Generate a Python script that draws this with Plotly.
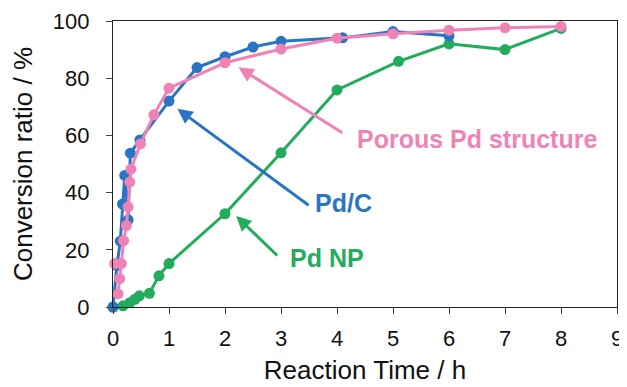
import plotly.graph_objects as go

# Data
pdc_x = [0, 0.07, 0.13, 0.17, 0.21, 0.27, 0.31, 0.48, 1.0, 1.5, 2.0, 2.5, 3.0, 4.1, 5.0, 6.0]
pdc_y = [0, 14.5, 23, 36, 46, 30.5, 53.8, 58.4, 72, 83.7, 87.5, 90.9, 92.9, 94.1, 96.3, 94.8]

por_x = [0.03, 0.15, 0.09, 0.12, 0.19, 0.24, 0.27, 0.3, 0.32, 0.49, 0.73, 1.0, 2.0, 3.0, 4.0, 5.0, 6.0, 7.0, 8.0]
por_y = [15.2, 15.2, 4.6, 9.9, 23.2, 28.5, 35, 43.7, 48.2, 57, 67.2, 76.5, 85.4, 90.2, 94, 95.5, 96.8, 97.6, 98.1]

np_x = [0, 0.18, 0.3, 0.39, 0.47, 0.65, 0.82, 1.0, 2.0, 3.0, 4.0, 5.1, 6.0, 7.0, 8.0]
np_y = [0, 0.4, 1.5, 2.7, 3.9, 4.8, 10.9, 15.2, 32.6, 53.9, 75.9, 85.9, 92, 90, 97.4]

x_ticks = [0, 1, 2, 3, 4, 5, 6, 7, 8, 9]
y_ticks = [0, 20, 40, 60, 80, 100]

BLUE = "#2A74C4"
PINK = "#F083B6"
GREEN = "#22AD5C"
FONT = "Liberation Sans, Arial, sans-serif"

fig = go.Figure()
for xs, ys, col in [(np_x, np_y, GREEN), (pdc_x, pdc_y, BLUE), (por_x, por_y, PINK)]:
    fig.add_trace(go.Scatter(x=xs, y=ys, mode="lines+markers",
                             line=dict(color=col, width=3),
                             marker=dict(color=col, size=11),
                             showlegend=False, cliponaxis=False))

def label(text, x, y, col, ax, ay, tx, ty):
    fig.add_annotation(x=x, y=y, ax=ax, ay=ay, xref="x", yref="y", axref="x", ayref="y",
                       text="", showarrow=True, arrowhead=2, arrowsize=1.0,
                       arrowwidth=3, arrowcolor=col, standoff=0)
    fig.add_annotation(x=tx, y=ty, xref="x", yref="y", text="<b>%s</b>" % text,
                       showarrow=False, xanchor="left", yanchor="middle",
                       font=dict(family=FONT, size=25, color=col))

label("Porous Pd structure", 2.24, 83.8, PINK, 4.12, 60.6, 4.33, 58.8)
label("Pd/C", 1.15, 69.3, BLUE, 3.52, 35.2, 3.58, 36.3)
label("Pd NP", 2.2, 31.8, GREEN, 2.96, 17.5, 3.13, 17.0)

fig.update_layout(
    width=619, height=379,
    margin=dict(l=105, r=10, t=13, b=80),
    paper_bgcolor="white", plot_bgcolor="white",
    font=dict(family=FONT, size=22, color="#111111"),
)
fig.update_xaxes(range=[0, 9], tickvals=x_ticks, ticks="outside", ticklen=6,
                 showline=True, linecolor="#222222", linewidth=1.2, mirror=True,
                 showgrid=False, zeroline=False, automargin=False,
                 ticklabelstandoff=5,
                 title=dict(text="Reaction Time / h", font=dict(size=26), standoff=11),
                 tickfont=dict(size=22))
fig.update_yaxes(range=[0, 100], tickvals=y_ticks, ticks="outside", ticklen=6,
                 showline=True, linecolor="#222222", linewidth=1.2, mirror=True,
                 showgrid=False, zeroline=False, automargin=False,
                 ticklabelstandoff=12,
                 title=dict(text="Conversion ratio / %", font=dict(size=26), standoff=14),
                 tickfont=dict(size=22))

fig.write_html("out.html")
